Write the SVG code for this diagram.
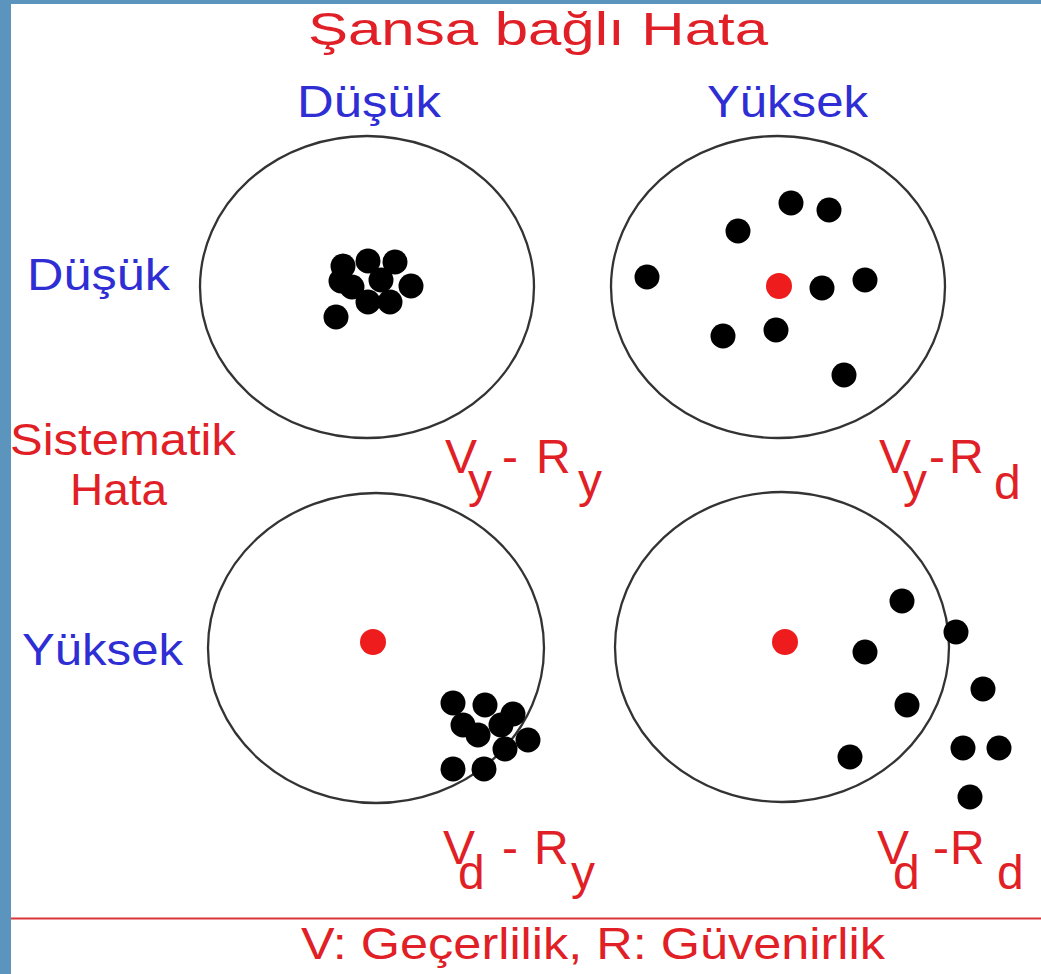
<svg xmlns="http://www.w3.org/2000/svg" width="1041" height="974" viewBox="0 0 1041 974">
<style>
.t{font-family:"Liberation Sans",Arial,sans-serif;}
.red{fill:#e01f27;}
.blue{fill:#2e2ed4;}
.ring{fill:none;stroke:#333;stroke-width:2.3;}
.dot{fill:#000;}
.bull{fill:#ee1c1c;}
</style>
<rect x="0" y="0" width="1041" height="974" fill="#ffffff"/>
<rect x="0" y="0" width="1041" height="4" fill="#5b94bc"/>
<rect x="0" y="0" width="11" height="974" fill="#5b94bc"/>

<g id="labels">
<text class="t red" x="308" y="45" font-size="46" textLength="460" lengthAdjust="spacingAndGlyphs">Şansa bağlı Hata</text>
<text class="t blue" x="297" y="117" font-size="44" textLength="144" lengthAdjust="spacingAndGlyphs">Düşük</text>
<text class="t blue" x="707" y="117" font-size="44" textLength="161" lengthAdjust="spacingAndGlyphs">Yüksek</text>
<text class="t blue" x="27" y="290" font-size="44" textLength="143" lengthAdjust="spacingAndGlyphs">Düşük</text>
<text class="t red" x="10" y="455" font-size="44" textLength="226" lengthAdjust="spacingAndGlyphs">Sistematik</text>
<text class="t red" x="70" y="505" font-size="44" textLength="97" lengthAdjust="spacingAndGlyphs">Hata</text>
<text class="t blue" x="22" y="665" font-size="44" textLength="161" lengthAdjust="spacingAndGlyphs">Yüksek</text>
</g>

<g id="target-vy-ry">
<ellipse class="ring" cx="367" cy="287" rx="167" ry="151"/>
<circle class="dot" cx="343" cy="266" r="12.5"/>
<circle class="dot" cx="368" cy="261" r="12.5"/>
<circle class="dot" cx="395" cy="262" r="12.5"/>
<circle class="dot" cx="341" cy="281" r="12.5"/>
<circle class="dot" cx="352" cy="287" r="12.5"/>
<circle class="dot" cx="381" cy="280" r="12.5"/>
<circle class="dot" cx="411" cy="286" r="12.5"/>
<circle class="dot" cx="368" cy="302" r="12.5"/>
<circle class="dot" cx="390" cy="302" r="12.5"/>
<circle class="dot" cx="336" cy="317" r="12.5"/>
<text class="t red" font-size="48"><tspan x="445" y="473">V</tspan><tspan x="468" y="497">y</tspan><tspan x="502" y="473">-</tspan><tspan x="536" y="473">R</tspan><tspan x="578" y="497">y</tspan></text>
</g>

<g id="target-vy-rd">
<ellipse class="ring" cx="778" cy="287" rx="167" ry="151"/>
<circle class="bull" cx="779" cy="286" r="13"/>
<circle class="dot" cx="791" cy="203" r="12.5"/>
<circle class="dot" cx="829" cy="210" r="12.5"/>
<circle class="dot" cx="738" cy="231" r="12.5"/>
<circle class="dot" cx="647" cy="277" r="12.5"/>
<circle class="dot" cx="822" cy="288" r="12.5"/>
<circle class="dot" cx="865" cy="280" r="12.5"/>
<circle class="dot" cx="723" cy="336" r="12.5"/>
<circle class="dot" cx="776" cy="330" r="12.5"/>
<circle class="dot" cx="844" cy="375" r="12.5"/>
<text class="t red" font-size="48"><tspan x="879" y="473">V</tspan><tspan x="903" y="497">y</tspan><tspan x="929" y="473">-</tspan><tspan x="949" y="473">R</tspan><tspan x="994" y="499">d</tspan></text>
</g>

<g id="target-vd-ry">
<ellipse class="ring" cx="376" cy="648" rx="168" ry="155"/>
<circle class="bull" cx="373" cy="642" r="13"/>
<circle class="dot" cx="453" cy="703" r="12.5"/>
<circle class="dot" cx="485" cy="705" r="12.5"/>
<circle class="dot" cx="513" cy="714" r="12.5"/>
<circle class="dot" cx="463" cy="725" r="12.5"/>
<circle class="dot" cx="478" cy="735" r="12.5"/>
<circle class="dot" cx="501" cy="725" r="12.5"/>
<circle class="dot" cx="528" cy="740" r="12.5"/>
<circle class="dot" cx="505" cy="749" r="12.5"/>
<circle class="dot" cx="453" cy="769" r="12.5"/>
<circle class="dot" cx="484" cy="769" r="12.5"/>
<text class="t red" font-size="48"><tspan x="443" y="864">V</tspan><tspan x="458" y="889">d</tspan><tspan x="502" y="864">-</tspan><tspan x="534" y="864">R</tspan><tspan x="571" y="889">y</tspan></text>
</g>

<g id="target-vd-rd">
<ellipse class="ring" cx="782" cy="647" rx="167" ry="155"/>
<circle class="bull" cx="785" cy="642" r="13"/>
<circle class="dot" cx="902" cy="601" r="12.5"/>
<circle class="dot" cx="956" cy="632" r="12.5"/>
<circle class="dot" cx="865" cy="652" r="12.5"/>
<circle class="dot" cx="907" cy="705" r="12.5"/>
<circle class="dot" cx="983" cy="689" r="12.5"/>
<circle class="dot" cx="850" cy="757" r="12.5"/>
<circle class="dot" cx="963" cy="748" r="12.5"/>
<circle class="dot" cx="999" cy="748" r="12.5"/>
<circle class="dot" cx="970" cy="797" r="12.5"/>
<text class="t red" font-size="48"><tspan x="877" y="864">V</tspan><tspan x="893" y="889">d</tspan><tspan x="933" y="864">-</tspan><tspan x="950" y="864">R</tspan><tspan x="997" y="889">d</tspan></text>
</g>

<g id="connectors">
<line x1="11" y1="918.5" x2="1041" y2="918.5" stroke="#d9343a" stroke-width="2"/>
</g>

<g id="legend">
<text class="t red" x="301" y="959" font-size="44" textLength="584" lengthAdjust="spacingAndGlyphs">V: Geçerlilik, R: Güvenirlik</text>
</g>
</svg>
